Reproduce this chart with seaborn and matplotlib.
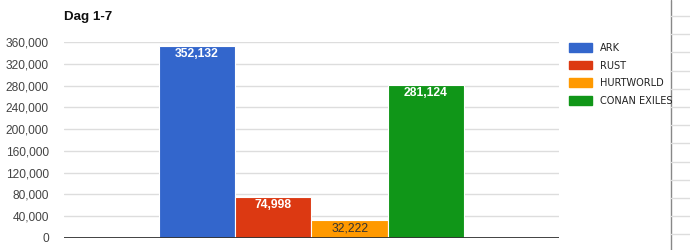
import matplotlib
matplotlib.use("Agg")
import matplotlib.pyplot as plt
import matplotlib.font_manager as fm
from matplotlib.patches import Patch
from matplotlib.lines import Line2D
import seaborn as sns
import pandas as pd

# ---- data ----
title = "Dag 1-7"
games = ["ARK", "RUST", "HURTWORLD", "CONAN EXILES"]
players = [352132, 74998, 32222, 281124]
colors = ["#3366cc", "#dc3912", "#ff9900", "#109618"]
label_colors = ["white", "white", "#333333", "white"]
label_weights = ["bold", "bold", "normal", "bold"]
yticks = list(range(0, 360001, 40000))

sns.set_theme(style="white")
plt.rcParams["font.family"] = ["Liberation Sans", "DejaVu Sans"]

W, H = 690, 250
fig = plt.figure(figsize=(W / 100, H / 100), dpi=100)
ax = fig.add_axes([64 / W, 1 - 238 / H, (559 - 64) / W, (238 - 42) / H])

df = pd.DataFrame({"period": [title] * len(games), "game": games, "players": players})
sns.barplot(data=df, x="period", y="players", hue="game", hue_order=games,
            palette=colors, width=0.617, saturation=1, legend=False,
            linewidth=0.8, edgecolor="white", ax=ax)

ax.set_xlim(-0.5, 0.5)
ax.set_ylim(0, 360000)
ax.set_yticks(yticks)
ax.set_yticklabels([f"{v:,}" for v in yticks], fontsize=8.6, color="#444444")
ax.tick_params(axis="y", length=0, pad=11)
ax.set_xticks([])
ax.set_xlabel("")
ax.set_ylabel("")
for s in ax.spines.values():
    s.set_visible(False)
ax.grid(axis="y", color="#dddddd", linewidth=1)
ax.set_axisbelow(True)
ax.axhline(0, color="#333333", linewidth=1.3, zorder=5)

bars = [p for p in ax.patches][:len(games)]
for p, v, c, w in zip(bars, players, label_colors, label_weights):
    ax.annotate(f"{v:,}", (p.get_x() + p.get_width() / 2, v),
                xytext=(0, -8), textcoords="offset pixels",
                ha="center", va="center", fontsize=8.7, color=c, fontweight=w)

fig.text(64 / W, 1 - 17 / H, title, fontsize=9.6, fontweight="bold",
         ha="left", va="center", color="#111111")

# look for a narrow / condensed sans font for the legend
narrow = None
for f in fm.fontManager.ttflist:
    n = (f.name + " " + str(f.fname)).lower()
    if ("narrow" in n or "condensed" in n) and "sans" in n and f.weight in (400, "normal", "regular") \
            and f.style == "normal":
        narrow = f.fname
        break
if narrow:
    leg_prop = fm.FontProperties(fname=narrow, size=7.8)
else:
    leg_prop = fm.FontProperties(family="Liberation Sans", size=7.5)

handles = [Patch(facecolor=c, edgecolor=c) for c in colors]
leg = fig.legend(handles, games, loc="upper left",
                 bbox_to_anchor=(569 / W, 1 - 43 / H), frameon=False,
                 prop=leg_prop,
                 handlelength=2.1, handleheight=0.85, handletextpad=0.8,
                 labelspacing=0.7, borderaxespad=0, borderpad=0)
for t in leg.get_texts():
    t.set_color("#222222")

# spreadsheet grid remnants on right edge
fig.add_artist(Line2D([670.5 / W] * 2, [0, 1], transform=fig.transFigure,
                      color="#888888", linewidth=1))
y = 16.0
while y < H:
    fig.add_artist(Line2D([671 / W, 1], [1 - y / H] * 2, transform=fig.transFigure,
                          color="#dddddd", linewidth=1))
    y += 18.2

fig.savefig("out.png", dpi=100)
